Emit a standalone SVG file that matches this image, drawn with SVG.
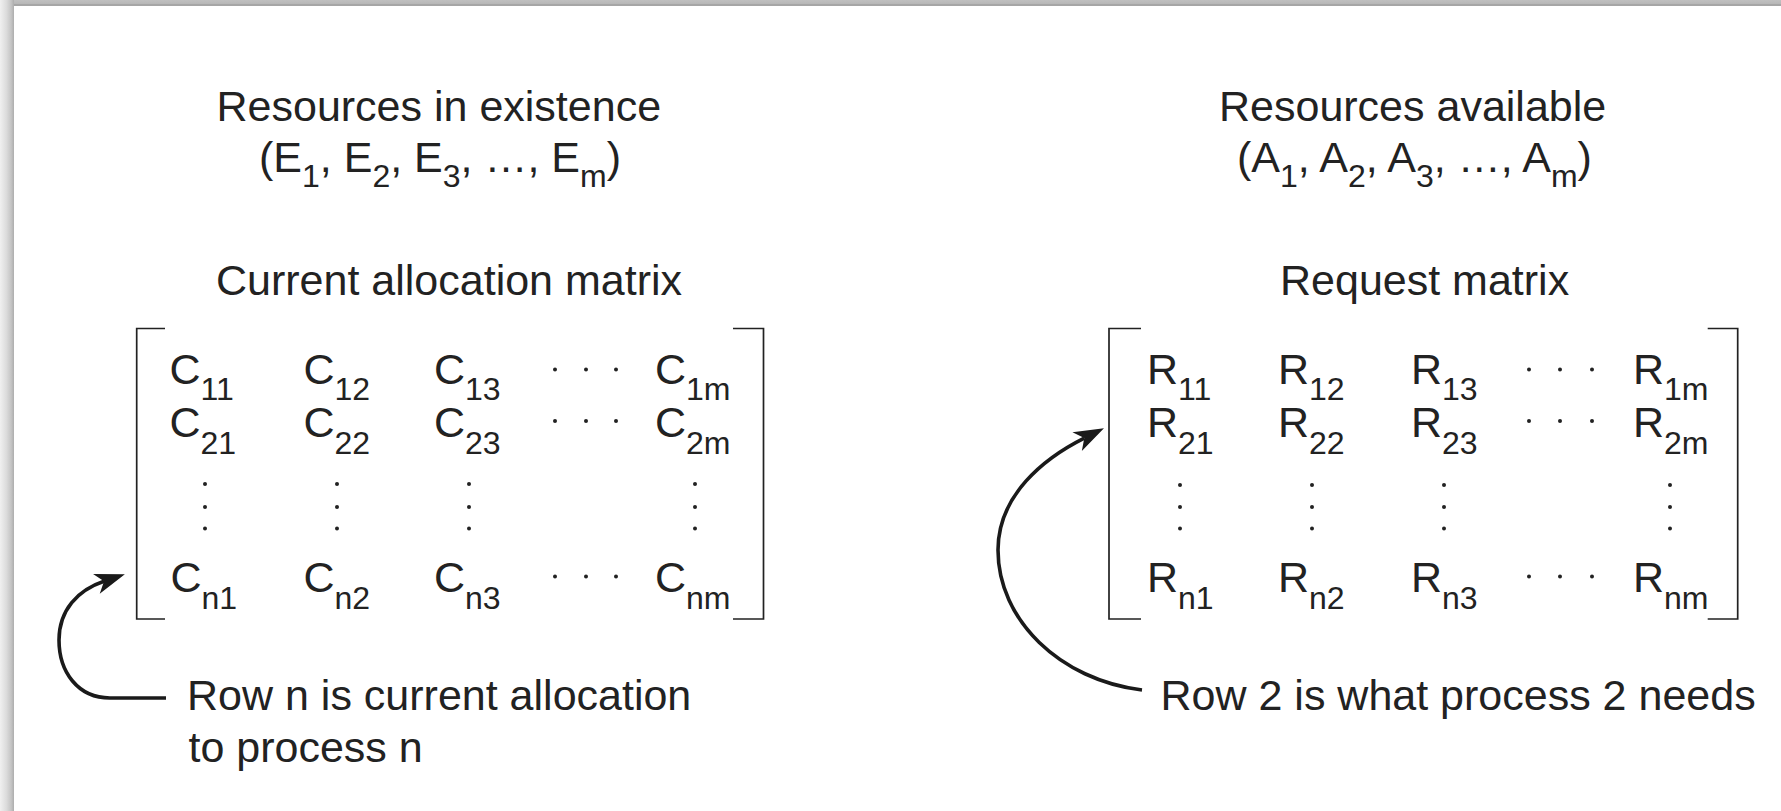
<svg xmlns="http://www.w3.org/2000/svg" width="1781" height="811" viewBox="0 0 1781 811">
<style>
text{font-family:"Liberation Sans",Arial,Helvetica,sans-serif;font-size:43px;fill:#222}
.sub{font-size:32px}
.br{fill:none;stroke:#222;stroke-width:1.7}
.dot{fill:#222}
.arc{fill:none;stroke:#1a1a1a;stroke-width:3.6}
</style>
<defs>
<linearGradient id="lg" x1="0" y1="0" x2="1" y2="0">
<stop offset="0" stop-color="#f0f0f0"/>
<stop offset="0.45" stop-color="#dcdcdc"/>
<stop offset="0.8" stop-color="#c4c4c4"/>
<stop offset="1" stop-color="#adadad"/>
</linearGradient>
<linearGradient id="tg" x1="0" y1="0" x2="0" y2="1">
<stop offset="0" stop-color="#c0c0c0"/>
<stop offset="0.6" stop-color="#b8b8b8"/>
<stop offset="0.7" stop-color="#a6a6a6"/>
<stop offset="1" stop-color="#a6a6a6"/>
</linearGradient>
<marker id="ah" markerUnits="userSpaceOnUse" markerWidth="40" markerHeight="30" refX="10" refY="15" orient="auto" viewBox="0 0 40 30">
<path d="M32,15 L2,4.5 L10,15 L2,25.5 Z" fill="#1a1a1a"/>
</marker>
</defs>
<rect x="0" y="0" width="1781" height="811" fill="#ffffff"/>
<rect x="0" y="0" width="14" height="811" fill="url(#lg)"/>
<rect x="14" y="0" width="1767" height="6" fill="url(#tg)"/>

<g id="existence">
<text x="216.5" y="120.5">Resources in existence</text>
<text x="440" y="171.5" text-anchor="middle">(E<tspan class="sub" dy="15">1</tspan><tspan dy="-15">, E</tspan><tspan class="sub" dy="15">2</tspan><tspan dy="-15">, E</tspan><tspan class="sub" dy="15">3</tspan><tspan dy="-15">, …, E</tspan><tspan class="sub" dy="15">m</tspan><tspan dy="-15">)</tspan></text>
</g>

<g id="available">
<text x="1219" y="120.5">Resources available</text>
<text x="1414.5" y="171.5" text-anchor="middle">(A<tspan class="sub" dy="15">1</tspan><tspan dy="-15">, A</tspan><tspan class="sub" dy="15">2</tspan><tspan dy="-15">, A</tspan><tspan class="sub" dy="15">3</tspan><tspan dy="-15">, …, A</tspan><tspan class="sub" dy="15">m</tspan><tspan dy="-15">)</tspan></text>
</g>

<g id="allocation-matrix">
<text x="216" y="295">Current allocation matrix</text>
<path class="br" d="M165,328.5 H136.7 V619 H165"/>
<path class="br" d="M733,328.5 H763.5 V619 H733"/>
<text x="169.5" y="383.5">C<tspan class="sub" dy="16.5">11</tspan></text>
<text x="303.5" y="383.5">C<tspan class="sub" dy="16.5">12</tspan></text>
<text x="434" y="383.5">C<tspan class="sub" dy="16.5">13</tspan></text>
<text x="655" y="383.5">C<tspan class="sub" dy="16.5">1m</tspan></text>
<text x="169.5" y="437">C<tspan class="sub" dy="16.5">21</tspan></text>
<text x="303.5" y="437">C<tspan class="sub" dy="16.5">22</tspan></text>
<text x="434" y="437">C<tspan class="sub" dy="16.5">23</tspan></text>
<text x="655" y="437">C<tspan class="sub" dy="16.5">2m</tspan></text>
<text x="170.5" y="592">C<tspan class="sub" dy="16.5">n1</tspan></text>
<text x="303.5" y="592">C<tspan class="sub" dy="16.5">n2</tspan></text>
<text x="434" y="592">C<tspan class="sub" dy="16.5">n3</tspan></text>
<text x="655" y="592">C<tspan class="sub" dy="16.5">nm</tspan></text>
<g class="dot">
<circle cx="555" cy="369.5" r="2"/><circle cx="586" cy="369.5" r="2"/><circle cx="616" cy="369.5" r="2"/>
<circle cx="555" cy="421" r="2"/><circle cx="586" cy="421" r="2"/><circle cx="616" cy="421" r="2"/>
<circle cx="555" cy="576.5" r="2"/><circle cx="586" cy="576.5" r="2"/><circle cx="616" cy="576.5" r="2"/>
<circle cx="205" cy="484" r="2"/><circle cx="205" cy="507" r="2"/><circle cx="205" cy="528.5" r="2"/>
<circle cx="337" cy="484" r="2"/><circle cx="337" cy="507" r="2"/><circle cx="337" cy="528.5" r="2"/>
<circle cx="469" cy="484" r="2"/><circle cx="469" cy="507" r="2"/><circle cx="469" cy="528.5" r="2"/>
<circle cx="695" cy="484" r="2"/><circle cx="695" cy="507" r="2"/><circle cx="695" cy="528.5" r="2"/>
</g>
</g>

<g id="request-matrix">
<text x="1280" y="295">Request matrix</text>
<path class="br" d="M1141,328.5 H1109 V619 H1141"/>
<path class="br" d="M1707.7,328.5 H1737.7 V619 H1707.7"/>
<text x="1147" y="383.5">R<tspan class="sub" dy="16.5">11</tspan></text>
<text x="1278" y="383.5">R<tspan class="sub" dy="16.5">12</tspan></text>
<text x="1411" y="383.5">R<tspan class="sub" dy="16.5">13</tspan></text>
<text x="1633" y="383.5">R<tspan class="sub" dy="16.5">1m</tspan></text>
<text x="1147" y="437">R<tspan class="sub" dy="16.5">21</tspan></text>
<text x="1278" y="437">R<tspan class="sub" dy="16.5">22</tspan></text>
<text x="1411" y="437">R<tspan class="sub" dy="16.5">23</tspan></text>
<text x="1633" y="437">R<tspan class="sub" dy="16.5">2m</tspan></text>
<text x="1147" y="592">R<tspan class="sub" dy="16.5">n1</tspan></text>
<text x="1278" y="592">R<tspan class="sub" dy="16.5">n2</tspan></text>
<text x="1411" y="592">R<tspan class="sub" dy="16.5">n3</tspan></text>
<text x="1633" y="592">R<tspan class="sub" dy="16.5">nm</tspan></text>
<g class="dot">
<circle cx="1529" cy="369.5" r="2"/><circle cx="1560" cy="369.5" r="2"/><circle cx="1592" cy="369.5" r="2"/>
<circle cx="1529" cy="421" r="2"/><circle cx="1560" cy="421" r="2"/><circle cx="1592" cy="421" r="2"/>
<circle cx="1529" cy="576.5" r="2"/><circle cx="1560" cy="576.5" r="2"/><circle cx="1592" cy="576.5" r="2"/>
<circle cx="1180" cy="485" r="2"/><circle cx="1180" cy="507" r="2"/><circle cx="1180" cy="528.5" r="2"/>
<circle cx="1312" cy="485" r="2"/><circle cx="1312" cy="507" r="2"/><circle cx="1312" cy="528.5" r="2"/>
<circle cx="1444" cy="485" r="2"/><circle cx="1444" cy="507" r="2"/><circle cx="1444" cy="528.5" r="2"/>
<circle cx="1670" cy="485" r="2"/><circle cx="1670" cy="507" r="2"/><circle cx="1670" cy="528.5" r="2"/>
</g>
</g>

<g id="note-row-n">
<text x="187" y="710">Row n is current allocation</text>
<text x="188.5" y="762">to process n</text>
</g>

<g id="note-row-2">
<text x="1160.5" y="710">Row 2 is what process 2 needs</text>
</g>

<g id="connectors">
<path class="arc" marker-end="url(#ah)" d="M166,698 L110,698 C78,698 59,672 59,640 C59,610 78,590 104,581.3"/>
<path class="arc" marker-end="url(#ah)" d="M1142,690 C1060,680 998,620 998,550 C998,495 1044.3,458.1 1084.3,438.1"/>
</g>
</svg>
